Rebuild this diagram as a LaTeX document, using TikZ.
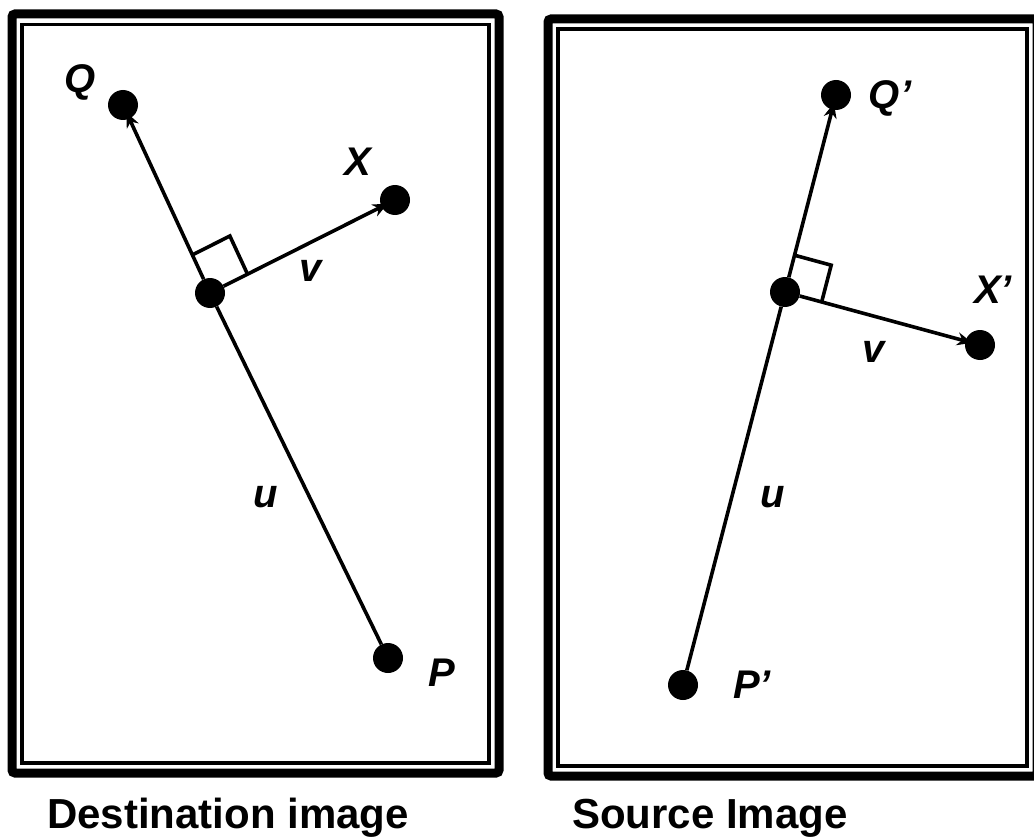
\documentclass[tikz,border=0pt]{standalone}
\usepackage{fontspec}
\setmainfont{Liberation Sans}
\usetikzlibrary{arrows.meta,calc}
\begin{document}
\begin{tikzpicture}[x=1pt,y=-1pt,
  dot/.style={circle,fill=black,inner sep=0pt,minimum size=30pt},
  lbl/.style={font=\fontsize{40}{40}\selectfont\bfseries\itshape,inner sep=0pt},
  captext/.style={font=\fontsize{42}{42}\selectfont\bfseries,inner sep=0pt,anchor=base west},
  conn/.style={line width=3.6pt},
  arr/.style={line width=3.6pt,-{Stealth[length=15pt,width=13pt]},shorten >=-7pt},
  outerframe/.style={line width=9pt,rounded corners=3pt},
  innerframe/.style={line width=3.4pt},
  sq/.style={line width=3.6pt}]
\useasboundingbox (0,0) rectangle (1034,840);
% frames
\draw[outerframe] (12,14) rectangle (499,773);
\draw[innerframe] (22,24.5) rectangle (489,763);
\draw[outerframe] (548,19) rectangle (1037,776);
\draw[innerframe] (558,29) rectangle (1027,766);
% left diagram
\node[dot] (Q) at (123,105) {};
\node[dot] (X) at (395,200) {};
\node[dot] (C) at (210,293) {};
\node[dot] (P) at (388,658) {};
\draw[conn] (P) -- (C);
\draw[arr] (C) -- (Q);
\draw[arr] (C) -- (X);
\coordinate (ca) at ($(C)!42pt!(Q)$);
\coordinate (cb) at ($(C)!42pt!(X)$);
\draw[sq] (ca) -- ($(ca)+(cb)-(C)$) -- (cb);
\node[lbl] (lQ) at (80,82) {Q};
\node[lbl] (lX) at (358,162) {X};
\node[lbl] (lv) at (311,271) {v};
\node[lbl] (lu) at (266,497) {u};
\node[lbl] (lP) at (442,673) {P};
% right diagram
\node[dot] (Q2) at (836,95) {};
\node[dot] (X2) at (980,345) {};
\node[dot] (C2) at (785,292) {};
\node[dot] (P2) at (683,685) {};
\draw[conn] (P2) -- (C2);
\draw[arr] (C2) -- (Q2);
\draw[arr] (C2) -- (X2);
\coordinate (da) at ($(C2)!38pt!(Q2)$);
\coordinate (db) at ($(C2)!38pt!(X2)$);
\draw[sq] (da) -- ($(da)+(db)-(C2)$) -- (db);
\node[lbl] (lQ2) at (890,98) {Q'};
\node[lbl] (lX2) at (993,290) {X'};
\node[lbl] (lv2) at (874,352) {v};
\node[lbl] (lu2) at (773,497) {u};
\node[lbl] (lP2) at (752,685) {P'};
% captions
\node[captext] (c1) at (47,828) {Destination image};
\node[captext] (c2) at (572,828) {Source Image};
\end{tikzpicture}
\end{document}
